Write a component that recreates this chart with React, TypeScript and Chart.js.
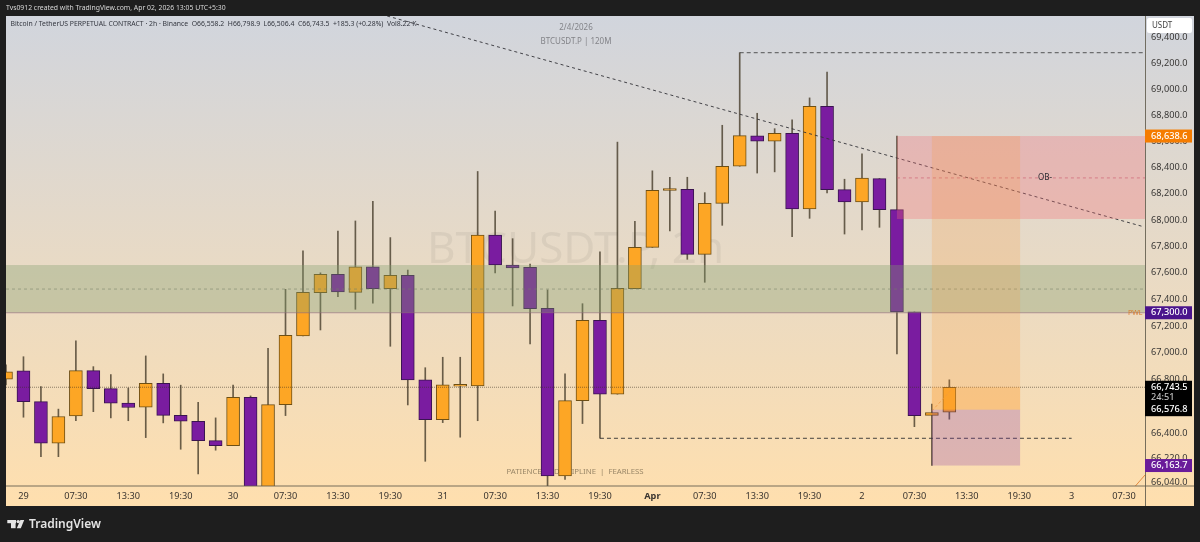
import { useEffect, useRef } from 'react';
import { Chart, registerables } from 'chart.js';

Chart.register(...registerables);

// first candle sits at bar -1, half cut by the left edge
const firstBar = -1;
const opens = [66803, 66865, 66637, 66328, 66531, 66867, 66733, 66625, 66596, 66773, 66535, 66491, 66348, 66311, 66669, 65950, 66614, 67126, 67450, 67588, 67453, 67646, 67481, 67581, 66798, 66503, 66751, 66753, 67886, 67659, 67641, 67334, 66088, 66644, 67243, 66692, 67481, 67792, 68224, 68233, 67739, 68126, 68408, 68640, 68599, 68660, 68083, 68867, 68230, 68136, 68314, 68078, 67306, 66535, 66558.2];
const highs = [66910, 66971, 66748, 66581, 67090, 66897, 66838, 66738, 66977, 66843, 66759, 66632, 66516, 66759, 66679, 67034, 67476, 67766, 67600, 67916, 67992, 68141, 67866, 67621, 66889, 66967, 66967, 68368, 68066, 67858, 67666, 67471, 66843, 67368, 67759, 68592, 67989, 68373, 68324, 68324, 68207, 68721, 69279, 68813, 68695, 68762, 68931, 69129, 68309, 68502, 68314, 68638, 67306, 66619, 66798.9];
const lows = [66761, 66521, 66229, 66229, 66495, 66562, 66516, 66495, 66370, 66479, 66284, 66102, 66277, 66311, 65900, 65900, 66533, 67126, 67171, 67421, 67326, 67371, 67049, 66612, 66195, 66481, 66373, 66495, 67600, 67351, 67066, 66000, 66061, 66474, 66366, 66692, 67481, 67792, 67916, 67702, 67529, 67959, 68408, 68356, 68365, 67873, 68012, 68205, 67893, 67924, 67944, 66991, 66451, 66163.7, 66506.4];
const closes = [66859, 66637, 66328, 66526, 66867, 66733, 66625, 66593, 66773, 66535, 66491, 66348, 66311, 66669, 65950, 66614, 67131, 67453, 67588, 67456, 67646, 67481, 67581, 66798, 66503, 66762, 66765, 67886, 67659, 67638, 67331, 66088, 66644, 67243, 66692, 67484, 67792, 68225, 68238, 67739, 68126, 68408, 68642, 68599, 68660, 68083, 68867, 68230, 68136, 68317, 68078, 67306, 66533, 66556, 66743.5];

const xTickBars = [0, 3, 6, 9, 12, 15, 18, 21, 24, 27, 30, 33, 36, 39, 42, 45, 48, 51, 54, 57, 60, 63];
const xTickLabels = ['29', '07:30', '13:30', '19:30', '30', '07:30', '13:30', '19:30', '31', '07:30', '13:30', '19:30', 'Apr', '07:30', '13:30', '19:30', '2', '07:30', '13:30', '19:30', '3', '07:30'];
const yTicks = [69400, 69200, 69000, 68800, 68600, 68400, 68200, 68000, 67800, 67600, 67400, 67200, 67000, 66800, 66600, 66400, 66220, 66040];

const trendBars = [20.82, 64.1];
const trendPrices = [69563, 67949];
const riskBars = [52, 53.1];
const riskPrices = [66567, 66723];
const cornerBars = [63.65, 64.2];
const cornerPrices = [66013, 66094];
const highLevel = 69279;
const lowLevel = 66365;
const pwlLevel = 67300;
const obMid = 68319;
const bandMid = 67478;
const lastPrice = 66743.5;
const entryPrice = 66576.8;
const stopPrice = 66163.7;
const targetPrice = 68638.6;
const bandTop = 67659;
const obBottom = 68007;

const titleText = 'Tvs0912 created with TradingView.com, Apr 02, 2026 13:05 UTC+5:30';
const legendText = 'Bitcoin / TetherUS PERPETUAL CONTRACT · 2h · Binance  O66,558.2  H66,798.9  L66,506.4  C66,743.5  +185.3 (+0.28%)  Vol8.22 K';

const UP = '#FDA625';
const DOWN = '#7A1CA0';
const FONT = '"Noto Sans"';

const bars = opens.map((_, i) => i + firstBar);
const fmt = (v: number) => v.toLocaleString('en-US', { minimumFractionDigits: 1, maximumFractionDigits: 1 });

const level = (from: number, to: number, price: number, color: string, dash: number[], width = 1) => ({
  type: 'line' as const,
  data: [{ x: from, y: price }, { x: to, y: price }],
  borderColor: color,
  borderWidth: width,
  borderDash: dash,
  pointRadius: 0,
  order: 1,
});

const segment = (xs: number[], ys: number[], color: string, dash: number[], width = 1) => ({
  type: 'line' as const,
  data: xs.map((x, i) => ({ x, y: ys[i] })),
  borderColor: color,
  borderWidth: width,
  borderDash: dash,
  pointRadius: 0,
  order: 1,
});

const overlays = {
  id: 'overlays',
  beforeDraw(chart: any) {
    const { ctx } = chart;
    ctx.save();
    ctx.fillStyle = '#1E1E1E';
    ctx.fillRect(0, 0, 1200, 542);
    const g = ctx.createLinearGradient(0, 16, 0, 506);
    g.addColorStop(0, '#D1D5DD');
    g.addColorStop(1, '#FFDFAE');
    ctx.fillStyle = g;
    ctx.fillRect(6, 16, 1188, 490);
    ctx.restore();
  },
  beforeDatasetsDraw(chart: any) {
    const { ctx } = chart;
    ctx.save();
    ctx.textBaseline = 'middle';
    ctx.textAlign = 'left';
    ctx.font = `44px ${FONT}`;
    ctx.fillStyle = 'rgba(110,105,100,0.1)';
    ctx.fillText('BTCUSDT.P, 2h', 427, 250);
    ctx.textAlign = 'center';
    ctx.font = `8px ${FONT}`;
    ctx.fillStyle = 'rgba(95,95,100,0.7)';
    ctx.fillText('2/4/2026', 576, 28);
    ctx.fillText('BTCUSDT.P | 120M', 576, 42);
    ctx.font = `7.8px ${FONT}`;
    ctx.fillStyle = 'rgba(110,95,70,0.7)';
    ctx.fillText('PATIENCE  |  DISCIPLINE  |  FEARLESS', 575, 472);
    ctx.restore();
  },
  afterDatasetsDraw(chart: any) {
    const { ctx, chartArea, scales } = chart;
    const { x, y } = scales;
    const zone = (a: number, b: number, top: number, bottom: number, color: string) => {
      ctx.fillStyle = color;
      const y0 = y.getPixelForValue(top);
      const x0 = x.getPixelForValue(a);
      ctx.fillRect(x0, y0, x.getPixelForValue(b) - x0, y.getPixelForValue(bottom) - y0);
    };
    ctx.save();
    ctx.beginPath();
    ctx.rect(chartArea.left, chartArea.top, chartArea.width, chartArea.height);
    ctx.clip();
    zone(-1, 64.3, bandTop, pwlLevel, 'rgba(130,158,108,0.35)');
    zone(50, 64.3, targetPrice, obBottom, 'rgba(245,107,115,0.3)');
    zone(52, 57.05, targetPrice, entryPrice, 'rgba(250,150,50,0.2)');
    zone(52, 57.05, lastPrice, entryPrice, 'rgba(255,165,50,0.25)');
    zone(52, 57.05, entryPrice, stopPrice, 'rgba(130,50,170,0.25)');
    ctx.restore();
  },
  afterDraw(chart: any) {
    const { ctx, scales } = chart;
    const { y } = scales;
    ctx.save();

    // frame lines of the pane
    ctx.strokeStyle = 'rgba(95,90,75,0.85)';
    ctx.lineWidth = 1;
    ctx.beginPath();
    ctx.moveTo(1145.5, 16);
    ctx.lineTo(1145.5, 506);
    ctx.moveTo(6, 486);
    ctx.lineTo(1194, 486);
    ctx.stroke();

    // header texts
    ctx.textBaseline = 'middle';
    ctx.textAlign = 'left';
    ctx.font = `6.85px ${FONT}`;
    ctx.fillStyle = '#D8D8D8';
    ctx.fillText(titleText, 6, 8.5);
    ctx.fillStyle = '#33363F';
    ctx.fillText(legendText, 10.5, 24.5);

    // small chart labels
    ctx.font = `7px ${FONT}`;
    ctx.fillStyle = '#D97B2A';
    ctx.fillText('PWL', 1128, y.getPixelForValue(pwlLevel));
    ctx.font = `8px ${FONT}`;
    ctx.fillStyle = '#2A2A30';
    ctx.fillText('OB-', 1038, y.getPixelForValue(obMid));

    // USDT button
    ctx.fillStyle = '#FFFFFF';
    ctx.beginPath();
    ctx.roundRect(1147, 18, 45, 15, 2);
    ctx.fill();
    ctx.fillStyle = '#444';
    ctx.font = `8px ${FONT}`;
    ctx.fillText('USDT', 1152, 26);

    // price tags on the axis
    const tag = (price: number, bg: string, text: string) => {
      const py = y.getPixelForValue(price);
      ctx.fillStyle = bg;
      ctx.fillRect(1145, py - 6.5, 47, 13);
      ctx.fillStyle = text;
      ctx.font = `500 9.2px ${FONT}`;
      ctx.fillText(fmt(price), 1151, py);
    };
    tag(targetPrice, '#F57C00', '#FFFFFF');
    tag(pwlLevel, '#4A148C', '#FFFFFF');
    tag(stopPrice, '#6A1B9A', '#FFFFFF');
    const lastY = y.getPixelForValue(lastPrice);
    const entryY = y.getPixelForValue(entryPrice);
    ctx.fillStyle = '#000000';
    ctx.fillRect(1145, lastY - 6.5, 47, entryY - lastY + 13);
    ctx.fillStyle = '#FFFFFF';
    ctx.font = `500 9.2px ${FONT}`;
    ctx.fillText(fmt(lastPrice), 1151, lastY);
    ctx.fillText(fmt(entryPrice), 1151, entryY);
    ctx.fillStyle = '#BDBDBD';
    ctx.fillText('24:51', 1151, (lastY + entryY) / 2 - 1.5);

    // TradingView logo
    ctx.fillStyle = '#E4E4E4';
    ctx.fillRect(7.3, 520, 8.7, 3.2);
    ctx.fillRect(11, 520, 4.6, 8.2);
    ctx.beginPath();
    ctx.arc(18.2, 521.6, 1.7, 0, Math.PI * 2);
    ctx.fill();
    ctx.beginPath();
    ctx.moveTo(20.4, 520);
    ctx.lineTo(24.2, 520);
    ctx.lineTo(20.8, 528.2);
    ctx.lineTo(16.8, 528.2);
    ctx.closePath();
    ctx.fill();
    ctx.font = `600 12px ${FONT}`;
    ctx.fillText('TradingView', 29, 524.5);
    ctx.restore();
  },
};

export default function App() {
  const canvasRef = useRef<HTMLCanvasElement>(null);

  useEffect(() => {
    if (!canvasRef.current) return;

    const chart = new Chart(canvasRef.current, {
      type: 'bar',
      data: {
        datasets: [
          {
            data: bars.map((b, i) => ({ x: b, y: [lows[i], highs[i]] })),
            backgroundColor: 'rgba(70,60,42,0.8)',
            barThickness: 1,
            grouped: false,
            order: 3,
          },
          {
            data: bars.map((b, i) => ({ x: b, y: [opens[i], closes[i]] })),
            backgroundColor: bars.map((_, i) => (closes[i] >= opens[i] ? UP : DOWN)),
            borderColor: bars.map((_, i) => (closes[i] >= opens[i] ? '#6E4F14' : '#3A1450')),
            borderWidth: 1,
            borderSkipped: false,
            barThickness: 13,
            grouped: false,
            order: 2,
          },
          segment(trendBars, trendPrices, 'rgba(50,50,55,0.9)', [3, 3]),
          segment(riskBars, riskPrices, 'rgba(235,150,70,0.7)', [3, 2]),
          segment(cornerBars, cornerPrices, 'rgba(225,130,50,0.9)', []),
          level(41, 64.1, highLevel, 'rgba(60,60,60,0.85)', [4, 3]),
          level(33, 60, lowLevel, 'rgba(50,50,50,0.9)', [4, 3]),
          level(-1, 64.3, lastPrice, 'rgba(60,50,35,0.55)', [1, 1]),
          level(-1, 64.3, bandMid, 'rgba(110,110,100,0.55)', [3, 3]),
          level(-1, 64.3, pwlLevel, 'rgba(150,90,130,0.6)', []),
          level(50, 64.3, obMid, 'rgba(190,100,120,0.7)', [3, 3]),
        ] as any,
      },
      options: {
        animation: false,
        responsive: false,
        layout: { padding: { left: 6, top: 16, right: 6, bottom: 36 } },
        plugins: { legend: { display: false }, tooltip: { enabled: false } },
        scales: {
          x: {
            type: 'linear',
            min: -1,
            max: 64.2,
            offset: false,
            grid: { display: false, drawTicks: false },
            border: { display: false },
            afterFit: (axis: any) => { axis.height = 20; },
            afterBuildTicks: (axis: any) => { axis.ticks = xTickBars.map((value) => ({ value })); },
            ticks: {
              autoSkip: false,
              maxRotation: 0,
              padding: 5,
              color: '#3A3530',
              font: (c: any) => ({ family: FONT, size: 9.2, weight: c.tick && c.tick.value === 36 ? 'bold' : 'normal' }),
              callback: (value: any) => xTickLabels[xTickBars.indexOf(Number(value))],
            },
          },
          y: {
            type: 'logarithmic',
            position: 'right',
            min: 66013,
            max: 69563,
            grid: { display: false, drawTicks: false },
            border: { display: false },
            afterFit: (axis: any) => { axis.width = 49; },
            afterBuildTicks: (axis: any) => { axis.ticks = yTicks.map((value) => ({ value })); },
            ticks: {
              autoSkip: false,
              padding: 6,
              color: '#3A3836',
              font: { family: FONT, size: 9.2 },
              callback: (value: any) => fmt(Number(value)),
            },
          },
        },
      },
      plugins: [overlays],
    } as any);

    return () => chart.destroy();
  }, []);

  return (
    <div style={{ position: 'fixed', left: 0, top: 0, width: 1200, height: 542 }}>
      <canvas ref={canvasRef} width={1200} height={542} style={{ display: 'block' }} />
    </div>
  );
}
